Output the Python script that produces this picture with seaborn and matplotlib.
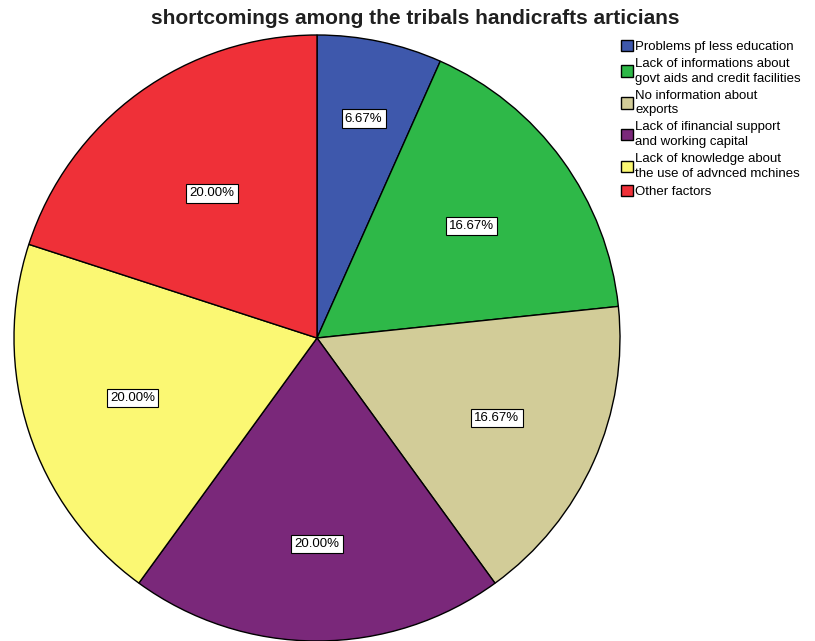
import matplotlib
matplotlib.use("Agg")
import matplotlib.pyplot as plt
import seaborn as sns
import numpy as np
from matplotlib.patches import Patch

sns.set_theme(style="white")
plt.rcParams["font.family"] = ["Liberation Sans", "DejaVu Sans"]

categories = [
    "Problems pf less education",
    "Lack of informations about\ngovt aids and credit facilities",
    "No information about\nexports",
    "Lack of ifinancial support\nand working capital",
    "Lack of knowledge about\nthe use of advnced mchines",
    "Other factors",
]
percentages = [6.67, 16.67, 16.67, 20.00, 20.00, 20.00]
colors = ["#3E58AC", "#2EB848", "#D2CC98", "#7A287A", "#FBF873", "#EF3038"]
label_radius = [0.74, 0.63, 0.65, 0.68, 0.64, 0.59]

fig = plt.figure(figsize=(8.15, 6.41), dpi=100)
ax = fig.add_axes([14 / 815, 0, 606 / 815, 606 / 641])

wedges, _ = ax.pie(
    percentages,
    colors=colors,
    startangle=90,
    counterclock=False,
    wedgeprops=dict(edgecolor="black", linewidth=1.0),
)
ax.set_xlim(-1, 1)
ax.set_ylim(-1, 1)
ax.set_aspect("equal")
ax.axis("off")

# percentage labels in white boxes inside each wedge
for w, pct, r in zip(wedges, percentages, label_radius):
    ang = np.deg2rad((w.theta1 + w.theta2) / 2)
    ax.text(
        r * np.cos(ang), r * np.sin(ang), f"{pct:.2f}%",
        ha="center", va="center", fontsize=9.5, color="black",
        bbox=dict(boxstyle="square,pad=0.25", facecolor="white", edgecolor="black", linewidth=0.8),
    )

fig.text(415 / 815, 1 - 18 / 641, "shortcomings among the tribals handicrafts articians",
         ha="center", va="center", fontsize=15, fontweight="bold", color="#202020")

handles = [Patch(facecolor=c, edgecolor="black", linewidth=1.0) for c in colors]
leg = fig.legend(
    handles, categories,
    loc="upper left", bbox_to_anchor=(614 / 815, 1 - 33 / 641),
    frameon=False, fontsize=9.5, handlelength=0.95, handleheight=0.95,
    handletextpad=0.15, labelspacing=0.38, borderpad=0.0,
)
for t in leg.get_texts():
    t.set_linespacing(1.3)
    t.set_color("black")

fig.savefig("out.png", dpi=100, facecolor="white")
